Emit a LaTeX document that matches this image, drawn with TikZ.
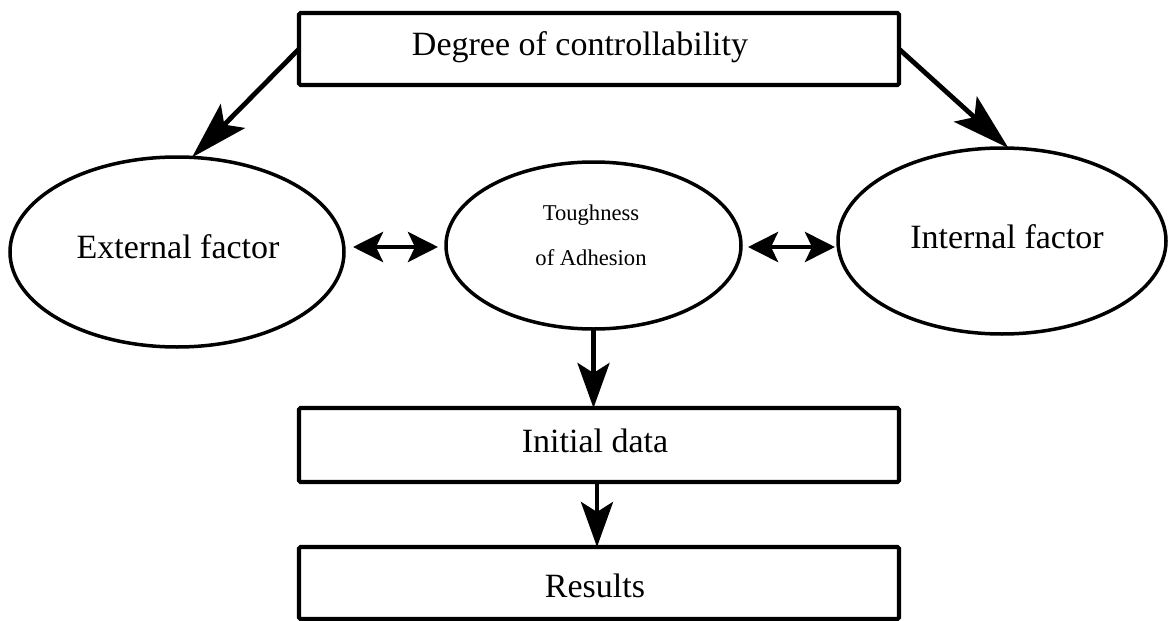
\documentclass[tikz,border=0pt]{standalone}
\usepackage{fontspec}
\setmainfont{Liberation Serif}
\usetikzlibrary{arrows.meta,calc,shapes.geometric}
\begin{document}
\begin{tikzpicture}[x=1pt,y=1pt,
  box/.style={draw, line width=4.2pt, rounded corners=1.5pt, minimum width=600pt, minimum height=72pt, inner sep=0pt, outer sep=0pt},
  oval/.style={draw, ellipse, line width=3.5pt, inner sep=0pt, outer sep=0pt},
  big/.style={font=\fontsize{34}{40}\selectfont, inner sep=0pt},
  small/.style={font=\fontsize{22.6}{45}\selectfont, align=center, inner sep=0pt},
  arr/.style={line width=4.8pt, -{Stealth[length=58pt,width=34pt,inset=12pt,fill=black]}},
  varr/.style={line width=4.8pt, -{Stealth[length=45pt,width=32pt,inset=10pt,fill=black]}},
  dbl/.style={line width=4.8pt, {Stealth[length=30pt,width=30pt,inset=7pt,fill=black]}-{Stealth[length=30pt,width=30pt,inset=7pt,fill=black]}}]
\useasboundingbox (0,0) rectangle (1168,-621);
% boxes
\node[box] (top) at (599,-49) {};
\node[big] (topt) at (580,-47) {Degree of controllability};
\node[box, minimum height=74pt] (init) at (599,-445) {};
\node[big] (initt) at (595,-441) {Initial data};
\node[box] (res) at (599,-583) {};
\node[big] (rest) at (595,-586) {Results};
% ellipses
\node[oval, minimum width=334pt, minimum height=190pt] (ext) at (177,-252) {};
\node[big] (extt) at (178,-247) {External factor};
\node[oval, minimum width=295pt, minimum height=167pt] (mid) at (593.5,-245.5) {};
\node[small] (midt) at (591,-235) {Toughness\\of Adhesion};
\node[oval, minimum width=328pt, minimum height=186pt] (int) at (1002,-241) {};
\node[big] (intt) at (1007,-237) {Internal factor};
% connectors
\draw[arr] (top.west) -- (ext.81);
\draw[arr] (top.east) -- (int.86);
\draw[dbl] ($(ext.east)+(9,5)$) -- ($(mid.west)+(-8,-1.5)$);
\draw[dbl] ($(mid.east)+(7,-1.5)$) -- ($(int.west)+(-3,-6)$);
\draw[varr] (mid.south) -- (mid.south |- init.north);
\draw[varr] (init.south) ++(-2,0) coordinate (is) (is) -- (is |- res.north);
\end{tikzpicture}
\end{document}
